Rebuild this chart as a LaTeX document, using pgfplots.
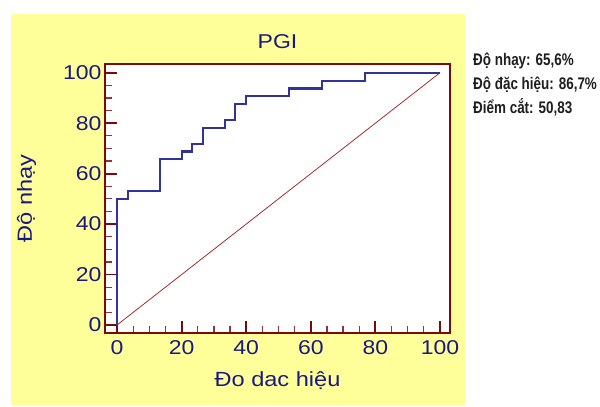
\documentclass[border=0pt]{standalone}
\usepackage{fontspec}
\setmainfont{Liberation Sans}
\newfontfamily\chartfont[FakeStretch=1.15]{Liberation Sans}
\newfontfamily\sidefont[FakeStretch=0.8]{Liberation Sans}
\usepackage{pgfplots}
\pgfplotsset{compat=1.18}
\definecolor{bgyellow}{RGB}{255,255,153}
\definecolor{axred}{RGB}{120,10,10}
\definecolor{minred}{RGB}{150,50,50}
\definecolor{navy}{RGB}{25,25,130}
\definecolor{curveblue}{RGB}{50,50,155}
\definecolor{diagred}{RGB}{165,45,45}
\definecolor{sidegray}{RGB}{30,30,30}
\begin{document}
\begin{tikzpicture}[x=1pt,y=1pt]
\useasboundingbox (0,0) rectangle (600,407);
\fill[bgyellow] (11,2) rectangle (465,393);
\begin{axis}[
  at={(105pt,74pt)}, anchor=south west,
  scale only axis, width=345pt, height=269pt,
  xmin=-3.72, xmax=103.1, ymin=-3.17, ymax=103.45,
  axis background/.style={fill=white},
  axis line style={axred, line width=2.5pt},
  xtick={0,20,...,100}, ytick={0,20,...,100},
  minor tick num=3,
  tick align=inside, xtick pos=left, ytick pos=left,
  major tick length=12pt, minor tick length=7pt,
  major tick style={axred, line width=1.8pt},
  minor tick style={minred, line width=1.2pt},
  /pgf/number format/assume math mode=true,
  tick label style={font=\chartfont\fontsize{20}{24}\selectfont, text=navy},
  xticklabel style={yshift=-4pt},
  title={PGI},
  title style={font=\chartfont\fontsize{20}{24}\selectfont, text=navy, at={(axis description cs:0.5,1.0364)}, anchor=base},
  xlabel={Đo dac hiệu},
  xlabel style={font=\chartfont\fontsize{20.5}{24}\selectfont, text=navy, at={(axis description cs:0.5,-0.2007)}, anchor=base},
  ylabel={Độ nhạy},
  ylabel style={font=\chartfont\fontsize{20.5}{24}\selectfont, text=navy, at={(axis description cs:-0.2116,0.5)}, anchor=base},
]
\addplot[diagred, line width=0.8pt] coordinates {(0,0) (100,100)};
\addplot[curveblue, line width=2.1pt] coordinates {
(0,0) (0,50) (3.33,50) (3.33,53.125) (13.33,53.125) (13.33,65.625)
(20,65.625) (20,68.75) (23.33,68.75) (23.33,71.875) (26.67,71.875)
(26.67,78.125) (33.33,78.125) (33.33,81.25) (36.67,81.25) (36.67,87.5)
(40,87.5) (40,90.625) (53.33,90.625) (53.33,93.75) (63.33,93.75)
(63.33,96.875) (76.67,96.875) (76.67,100) (100,100)};
\end{axis}
\begin{scope}[every node/.style={anchor=base west, inner sep=0pt, text=sidegray, font=\sidefont\bfseries\fontsize{16.8}{20}\selectfont}]
\node at (473,341) {Độ nhạy: 65,6\%};
\node at (473,317) {Độ đặc hiệu: 86,7\%};
\node at (473,293) {Điểm cắt: 50,83};
\end{scope}
\end{tikzpicture}
\end{document}
